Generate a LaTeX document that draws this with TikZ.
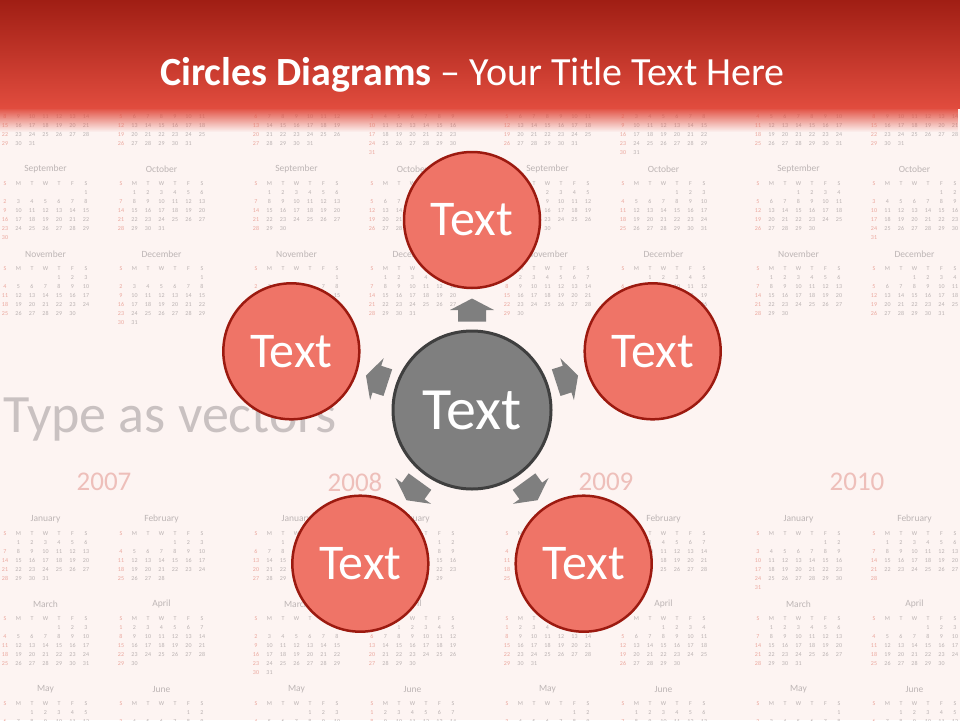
\documentclass[tikz,border=0pt]{standalone}
\usepackage{fontspec}
\setmainfont{Carlito}[Numbers=Lining]
\usetikzlibrary{calc,fadings}
\definecolor{bgc}{HTML}{FDF4F2}
\definecolor{hdtop}{HTML}{A01E14}
\definecolor{hdbot}{HTML}{E14C3E}
\definecolor{calg}{HTML}{BAB2B2}
\definecolor{calr}{HTML}{EBA79D}
\definecolor{calname}{HTML}{BDB5B5}
\definecolor{yearc}{HTML}{EEBFBA}
\definecolor{typec}{HTML}{C9C1C1}
\definecolor{circf}{HTML}{EF7467}
\definecolor{circd}{HTML}{9C1A10}
\definecolor{cgray}{HTML}{7F7F7F}
\definecolor{cdark}{HTML}{3F3F3F}
\definecolor{arrowc}{HTML}{7F7F7F}
\tikzfading[name=fadedown, top color=transparent!0, bottom color=transparent!100]
\tikzset{
  calday/.style={text=calg, font=\fontsize{6}{6}\selectfont, inner sep=0pt, anchor=base},
  calsun/.style={text=calr, font=\fontsize{6}{6}\selectfont, inner sep=0pt, anchor=base},
  calmname/.style={text=calname, font=\fontsize{9.5}{9.5}\selectfont, inner sep=0pt},
  calyear/.style={text=yearc, font=\fontsize{27}{27}\selectfont, inner sep=0pt},
  outc/.style={circle, fill=circf, draw=circd, line width=2.5pt, minimum size=136pt,
    inner sep=0pt, text=white, font=\fontsize{50}{50}\selectfont},
  cenc/.style={circle, fill=cgray, draw=cdark, line width=3pt, minimum size=158pt,
    inner sep=0pt, text=white, font=\fontsize{60}{60}\selectfont},
  blockarrow/.style={fill=arrowc},
}
\newcommand\calmonth[5]{%
  \node[calmname] at ({#1+40.5},{#2}) {#3};
  \foreach \w [count=\i from 0] in {S,M,T,W,T,F,S} {
    \ifnum\i=0 \node[calsun] at ({#1},{#2+16}) {\w};
    \else \node[calday] at ({#1+13.5*\i},{#2+16}) {\w};\fi
  }
  \foreach \d in {1,...,#5} {
    \pgfmathtruncatemacro\pos{\d-1+#4}
    \pgfmathtruncatemacro\col{mod(\pos,7)}
    \pgfmathtruncatemacro\row{div(\pos,7)}
    \ifnum\col=0 \node[calsun] at ({#1},{#2+25+9*\row}) {\d};
    \else \node[calday] at ({#1+13.5*\col},{#2+25+9*\row}) {\d};\fi
  }
}
\newcommand\caltop[7]{%
  \calmonth{#1}{84}{July}{#2}{31}
  \calmonth{#1+116}{84}{August}{#3}{31}
  \calmonth{#1}{169}{September}{#4}{30}
  \calmonth{#1+116}{169}{October}{#5}{31}
  \calmonth{#1}{254}{November}{#6}{30}
  \calmonth{#1+116}{254}{December}{#7}{31}
}
\newcommand\calbot[9]{%
  \node[calyear] at ({#1+99},482) {#2};
  \calmonth{#1}{519}{January}{#3}{31}
  \calmonth{#1+116}{519}{February}{#4}{#9}
  \calmonth{#1}{604}{March}{#5}{31}
  \calmonth{#1+116}{604}{April}{#6}{30}
  \calmonth{#1}{689}{May}{#7}{31}
  \calmonth{#1+116}{689}{June}{#8}{30}
}
\begin{document}
\begin{tikzpicture}[x=1pt,y=-1pt]
\useasboundingbox (0,0) rectangle (960,720);
\clip (0,0) rectangle (960,720);
\fill[bgc] (0,0) rectangle (960,720);
% background calendar
\caltop{5}{0}{3}{6}{1}{4}{6}
\caltop{256}{2}{5}{1}{3}{6}{1}
\caltop{507}{3}{6}{2}{4}{0}{2}
\caltop{758}{4}{0}{3}{5}{1}{3}
\calbot{5}{2007}{1}{4}{4}{0}{2}{5}{28}
\calbot{256}{2008}{2}{5}{6}{2}{4}{0}{29}
\calbot{507}{2009}{4}{0}{0}{3}{5}{1}{28}
\calbot{758}{2010}{5}{1}{1}{4}{6}{2}{28}
\node[text=typec, font=\fontsize{54}{54}\selectfont, anchor=west, inner sep=0pt] (type) at (3,420) {Type as vectors};
% header
\fill[top color=hdtop, bottom color=hdbot] (0,0) rectangle (960,108);
\fill[hdbot, path fading=fadedown] (0,107.5) rectangle (960,132);
\node[text=white, font=\fontsize{40}{40}\selectfont, inner sep=0pt] (title) at (472.5,75)
  {\textbf{Circles Diagrams} – Your Title Text Here};
% circles
\node[cenc] (C) at (472,410) {Text};
\node[outc] (T) at (472,220) {Text};
\node[outc] (R) at (652.7,351.3) {Text};
\node[outc] (L) at (291.3,351.3) {Text};
\node[outc] (BL) at (360.3,563.7) {Text};
\node[outc] (BR) at (583.7,563.7) {Text};
% arrows
\foreach \t/\a in {T/90, R/18, L/162, BL/234, BR/306} {
  \coordinate (ar\t) at ($(C)!100pt!(\t)$);
  \fill[blockarrow, shift={(ar\t)}, rotate=\a]
    (-11.5,-14) -- (0,-14) -- (0,-22) -- (11.5,0) -- (0,22) -- (0,14) -- (-11.5,14) -- cycle;
}
\end{tikzpicture}
\end{document}
